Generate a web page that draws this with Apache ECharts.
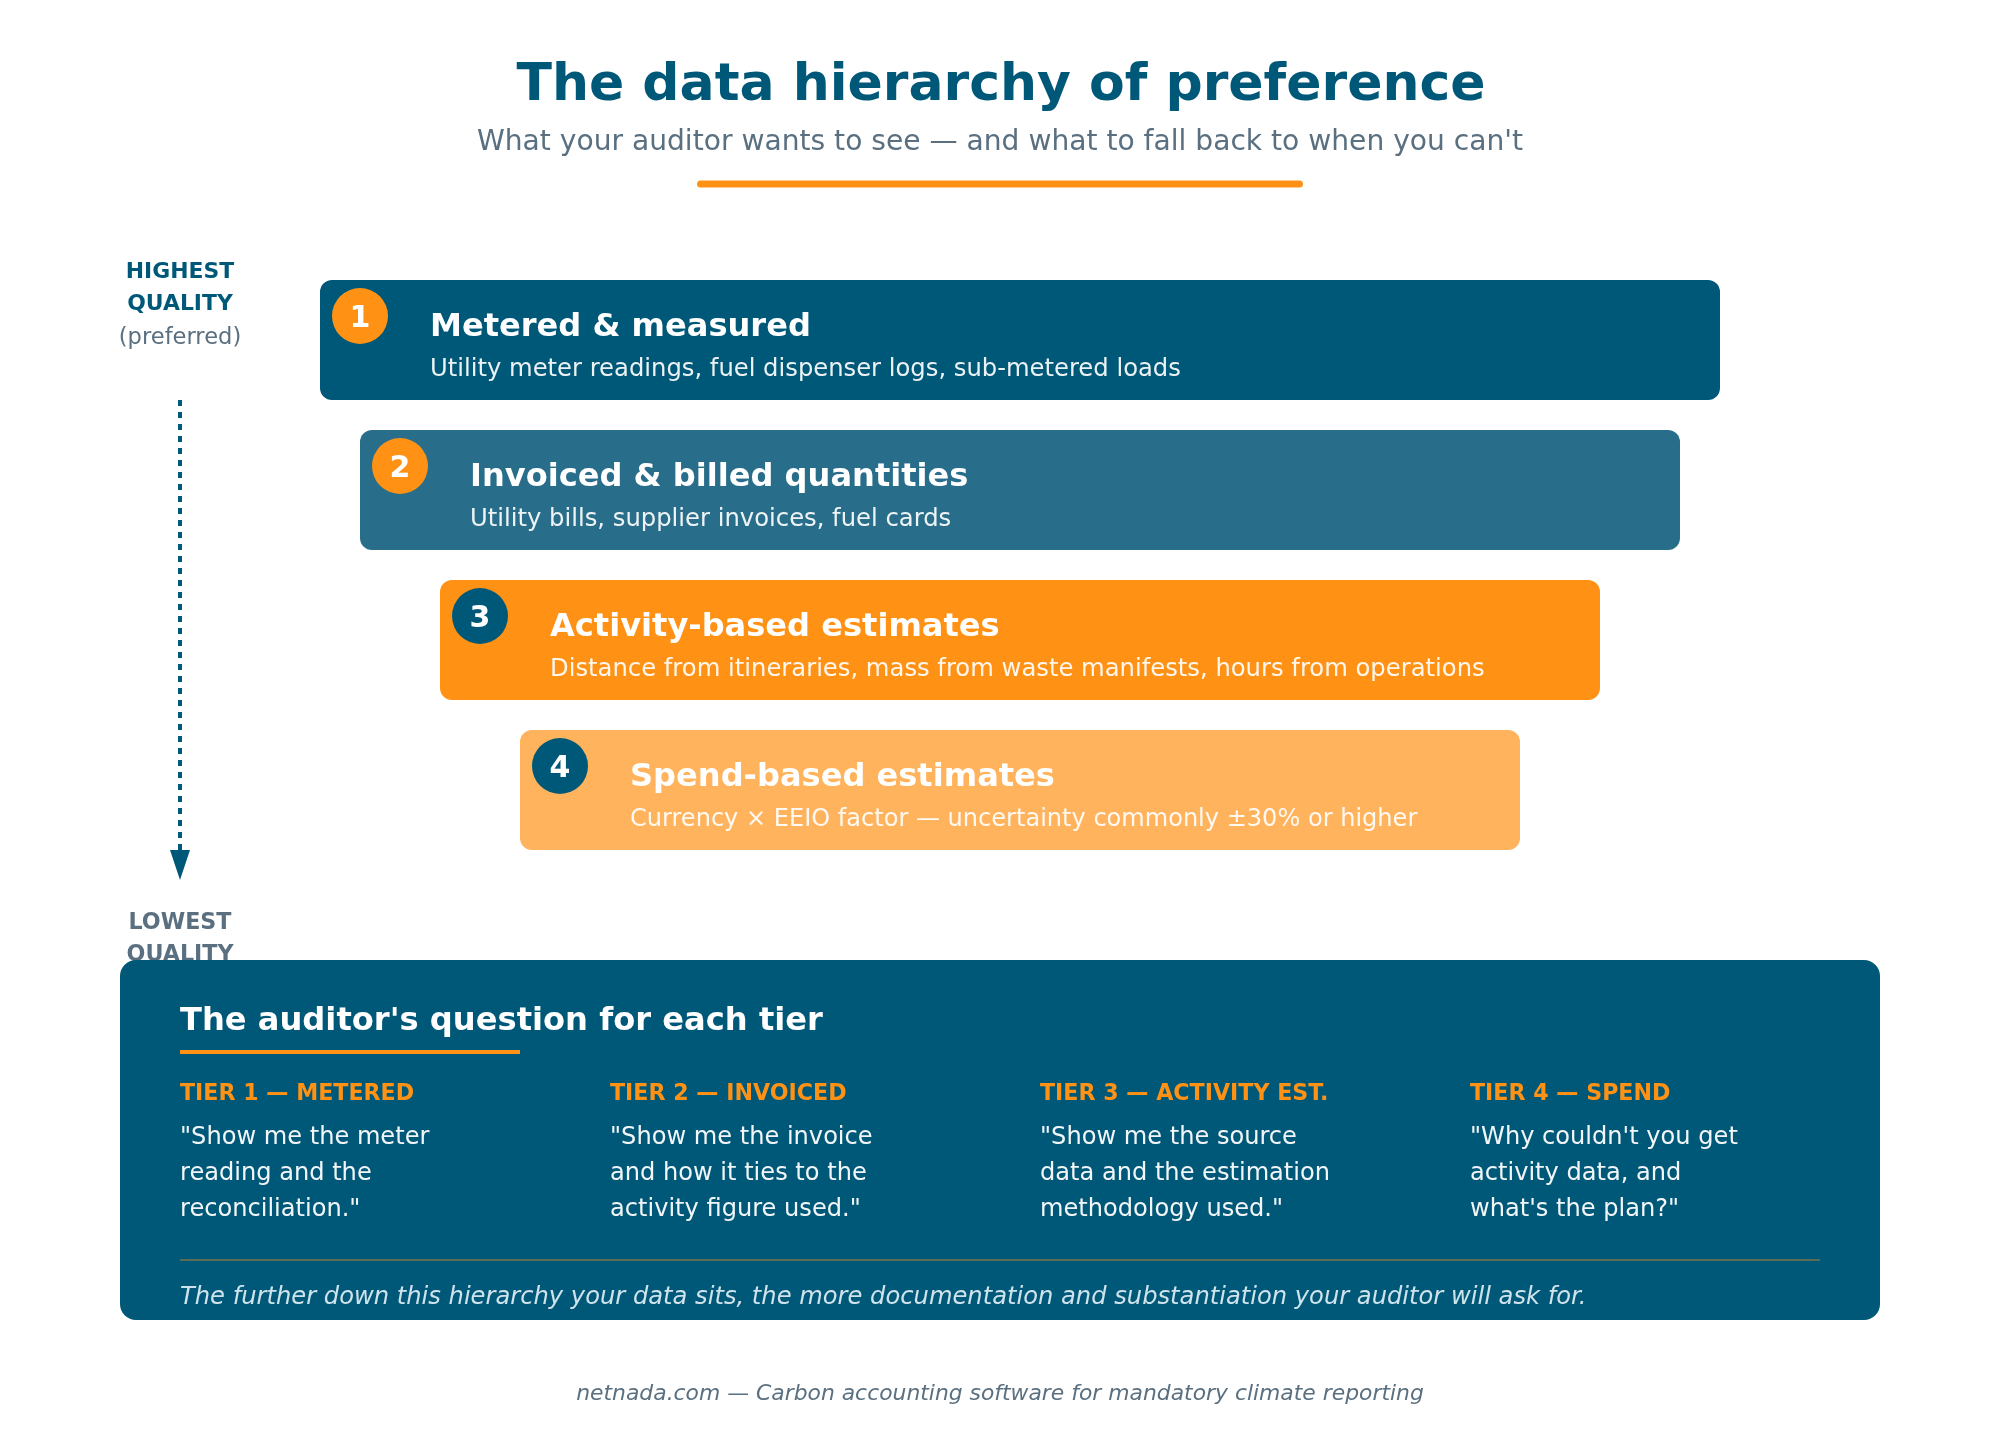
<!DOCTYPE html>
<html>
<head>
<meta charset="utf-8">
<title>The data hierarchy of preference</title>
<style>
  html, body { margin: 0; padding: 0; background: #fff; }
  #chart { width: 2000px; height: 1440px; }
</style>
</head>
<body>
<div id="chart"></div>
<script src="https://cdn.jsdelivr.net/npm/echarts@6/dist/echarts.min.js"></script>
<script>
// Tier data
const tierNames = ['Metered & measured', 'Invoiced & billed quantities', 'Activity-based estimates', 'Spend-based estimates'];
const tierDetails = [
  'Utility meter readings, fuel dispenser logs, sub-metered loads',
  'Utility bills, supplier invoices, fuel cards',
  'Distance from itineraries, mass from waste manifests, hours from operations',
  'Currency × EEIO factor — uncertainty commonly ±30% or higher'
];
const tierWidths = [1400, 1320, 1160, 1000];
const tierNumbers = ['1', '2', '3', '4'];

// Auditor panel data
const questionHeads = ['TIER 1 — METERED', 'TIER 2 — INVOICED', 'TIER 3 — ACTIVITY EST.', 'TIER 4 — SPEND'];
const questionLines = [
  ['"Show me the meter', 'reading and the', 'reconciliation."'],
  ['"Show me the invoice', 'and how it ties to the', 'activity figure used."'],
  ['"Show me the source', 'data and the estimation', 'methodology used."'],
  ['"Why couldn\'t you get', 'activity data, and', 'what\'s the plan?"']
];

const NAVY = '#005879';
const ORANGE = '#FF9214';
const SLATE = '#5A7080';
const FONT = '"DejaVu Sans"';
const tierColors = [NAVY, '#286E8A', ORANGE, '#FFB35C'];
const badgeColors = [ORANGE, ORANGE, NAVY, NAVY];
const detailSizes = [24.26, 24.28, 24.27, 24.06];
const CENTER_X = 1020;

// text helper, y is the baseline
function txt(text, x, baseline, size, fill, opts) {
  opts = opts || {};
  return {
    type: 'text',
    z: opts.z || 10,
    style: {
      text: text,
      x: x,
      y: baseline - size * 0.365,
      fill: fill,
      opacity: opts.opacity == null ? 1 : opts.opacity,
      align: opts.align || 'left',
      verticalAlign: 'middle',
      font: (opts.italic ? 'italic ' : '') + (opts.bold ? 'bold ' : '') + size + 'px ' + FONT
    }
  };
}

function renderTier(params, api) {
  const i = api.value(0);
  const w = api.value(1);
  const start = api.coord([CENTER_X - w / 2, i]);
  const end = api.coord([CENTER_X + w / 2, i]);
  const h = 120;
  const top = start[1] - h / 2;
  const left = start[0];
  return {
    type: 'group',
    children: [
      {
        type: 'rect',
        shape: { x: left, y: top, width: end[0] - left, height: h, r: 12 },
        style: { fill: tierColors[i] }
      },
      {
        type: 'circle',
        shape: { cx: left + 40, cy: top + 36, r: 28 },
        style: { fill: badgeColors[i] }
      },
      txt(tierNumbers[i], left + 40, top + 50, 30, '#fff', { bold: true, align: 'center' }),
      txt(tierNames[i], left + 110, top + 59, 32.1, '#fff', { bold: true }),
      txt(tierDetails[i], left + 110, top + 99, detailSizes[i], '#fff', { opacity: 0.92 })
    ]
  };
}

// Auditor panel elements
const panel = [
  {
    type: 'rect',
    z: 5,
    shape: { x: 120, y: 960, width: 1760, height: 360, r: 16 },
    style: { fill: NAVY }
  },
  txt("The auditor's question for each tier", 180, 1033, 32.15, '#fff', { bold: true }),
  {
    type: 'rect',
    z: 10,
    shape: { x: 180, y: 1050, width: 340, height: 4 },
    style: { fill: ORANGE }
  },
  {
    type: 'rect',
    z: 10,
    shape: { x: 180, y: 1259, width: 1640, height: 2 },
    style: { fill: ORANGE, opacity: 0.35 }
  },
  txt('The further down this hierarchy your data sits, the more documentation and substantiation your auditor will ask for.', 180, 1307, 24.2, '#CFE3EC', { italic: true })
];
questionHeads.forEach(function (head, c) {
  const x = 180 + c * 430;
  panel.push(txt(head, x, 1102, 22.15, ORANGE, { bold: true }));
  questionLines[c].forEach(function (line, r) {
    panel.push(txt(line, x, 1147 + r * 36, 24.1, '#fff', { opacity: 0.95 }));
  });
});

const myChart = echarts.init(document.getElementById('chart'));
const option = {
  backgroundColor: '#fff',
  animation: false,
  textStyle: { fontFamily: FONT },
  grid: { left: 0, top: 265, width: 2000, height: 600 },
  xAxis: { type: 'value', min: 0, max: 2000, show: false },
  yAxis: { type: 'category', inverse: true, data: tierNames, show: false },
  series: [
    {
      type: 'custom',
      coordinateSystem: 'cartesian2d',
      renderItem: renderTier,
      encode: { x: 1, y: 0 },
      data: tierWidths.map(function (w, i) { return [i, w]; })
    }
  ],
  graphic: [
    txt('The data hierarchy of preference', 1001, 105, 52, NAVY, { bold: true, align: 'center' }),
    txt("What your auditor wants to see — and what to fall back to when you can't", 1000, 153, 28.14, SLATE, { align: 'center' }),
    {
      type: 'rect',
      shape: { x: 697, y: 180.5, width: 606, height: 7, r: 3.5 },
      style: { fill: ORANGE }
    },
    txt('HIGHEST', 180, 280.5, 21.9, NAVY, { bold: true, align: 'center' }),
    txt('QUALITY', 180, 312.5, 21.9, NAVY, { bold: true, align: 'center' }),
    txt('(preferred)', 180, 346, 22.6, SLATE, { align: 'center' }),
    {
      type: 'line',
      shape: { x1: 180, y1: 400, x2: 180, y2: 852 },
      style: { stroke: NAVY, lineWidth: 4, lineDash: [6, 6] }
    },
    {
      type: 'polygon',
      shape: { points: [[170, 850], [190, 850], [180, 880]] },
      style: { fill: NAVY }
    },
    txt('LOWEST', 180, 931.5, 22.2, SLATE, { bold: true, align: 'center', z: 1 }),
    txt('QUALITY', 180, 963.5, 22.2, SLATE, { bold: true, align: 'center', z: 1 }),
    txt('netnada.com — Carbon accounting software for mandatory climate reporting', 1000, 1402, 21.86, SLATE, { italic: true, align: 'center' })
  ].concat(panel)
};
myChart.setOption(option);
</script>
</body>
</html>
